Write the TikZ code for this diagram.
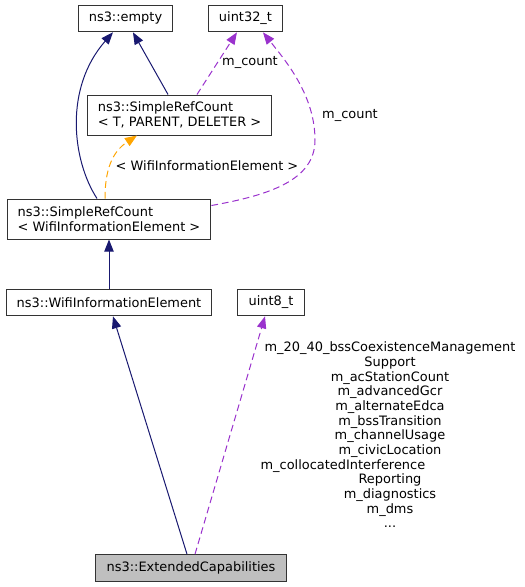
\documentclass[tikz,border=0pt]{standalone}
\usepackage{fontspec}
\setmainfont{DejaVu Sans}
\usepackage{calc}
\usetikzlibrary{arrows.meta}
\definecolor{navy}{HTML}{191970}
\definecolor{orchid}{HTML}{9A32CD}
\definecolor{amber}{HTML}{FFA500}
\tikzstyle{klass} = [rectangle, draw=black!80, line width=0.75pt, minimum height=20pt, inner xsep=8pt, inner ysep=2pt, font=\fontsize{9.7}{11}\selectfont]
\tikzstyle{klass2} = [klass, minimum height=30pt, align=left]
\tikzstyle{lbl} = [inner sep=0pt, font=\fontsize{9.7}{11}\selectfont]
\tikzstyle{inherit} = [line width=0.75pt, draw=navy, -{Triangle[length=9pt,width=7pt]}]
\tikzstyle{usage} = [line width=0.75pt, draw=orchid, dash pattern=on 5pt off 3pt, -{Triangle[length=9pt,width=7pt]}]
\tikzstyle{templ} = [line width=0.75pt, draw=amber, dash pattern=on 5pt off 3pt, -{Triangle[length=9pt,width=7pt]}]

\begin{document}
\begin{tikzpicture}[x=0.75pt, y=-0.75pt]
            \useasboundingbox (0,0) rectangle (525,587);
            \node [klass] at (125.5,18.5) (empty) {ns3::empty};
            \node [klass] at (245.5,18.5) (uint32) {uint32\_t};
            \node [klass2] at (179.5,115) (srcT) {ns3::SimpleRefCount\\< T, PARENT, DELETER >};
            \node [klass2] at (109,219) (srcW) {ns3::SimpleRefCount\\< WifiInformationElement >};
            \node [klass] at (109,302.5) (wifiIE) {ns3::WifiInformationElement};
            \node [klass] at (271,302.5) (uint8) {uint8\_t};
            \node [klass, fill=black!25] at (191,568) (extcap) {ns3::ExtendedCapabilities};
            \node [lbl] at (250,62) (lcount1) {m\_count};
            \node [lbl] at (350,115) (lcount2) {m\_count};
            \node [lbl] at (207,166) (ltempl) {< WifiInformationElement >};
            \node [lbl, align=center] at (390,435) (lflags) {m\_20\_40\_bssCoexistenceManagement\\Support\\m\_acStationCount\\m\_advancedGcr\\m\_alternateEdca\\m\_bssTransition\\m\_channelUsage\\m\_civicLocation\\\makebox[\widthof{m\_20\_40\_bssCoexistenceManagement}][l]{\hspace*{-3pt}m\_collocatedInterference}\\Reporting\\m\_diagnostics\\m\_dms\\...};
            \draw [inherit] ([xshift=-9pt]srcW.north) .. controls (72,160) and (64,88) .. ([xshift=-9.4pt]empty.south);
            \draw [inherit] ([xshift=-8.6pt]srcT.north) -- ([xshift=5.6pt]empty.south);
            \draw [usage] ([xshift=13.1pt]srcT.north) -- ([xshift=-6.4pt]uint32.south);
            \draw [usage] ([yshift=-5.25pt]srcW.north east) .. controls (270,195) and (315,180) .. (315,140) .. controls (315,95) and (285,60) .. ([xshift=13.1pt]uint32.south);
            \draw [templ] ([xshift=-3pt]srcW.north) .. controls (105,170) and (112,152) .. ([xshift=-31.9pt]srcT.south);
            \draw [inherit] (wifiIE) -- (srcW);
            \draw [inherit] ([xshift=-3pt]extcap.north) -- ([xshift=3pt]wifiIE.south);
            \draw [usage] ([xshift=3pt]extcap.north) -- ([xshift=-4.5pt]uint8.south);
            \end{tikzpicture}
\end{document}
